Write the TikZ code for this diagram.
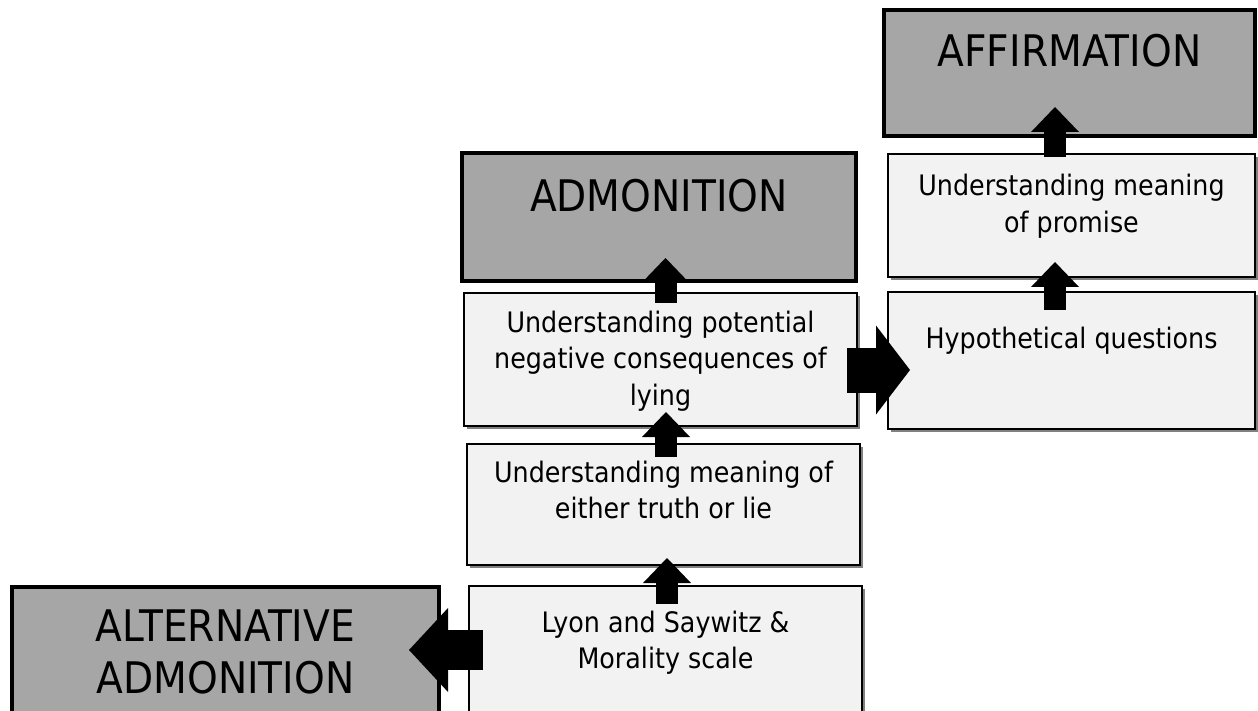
\documentclass[tikz,border=0pt]{standalone}
\usepackage{fontspec}
\setmainfont[FakeStretch=0.9]{DejaVu Sans}
\usetikzlibrary{calc,fit,shadows,arrows.meta}
\definecolor{boxgray}{HTML}{A6A6A6}
\definecolor{boxlight}{HTML}{F2F2F2}
\definecolor{shadowgray}{HTML}{808080}
\setlength\tabcolsep{0pt}
\tikzset{
  lightbox/.style={draw=black, line width=1.5pt, fill=boxlight, inner sep=0pt, outer sep=0pt,
    drop shadow={shadow xshift=3pt, shadow yshift=-3pt, fill=shadowgray, opacity=1}},
  graybox/.style={draw=black, line width=4.5pt, fill=boxgray, inner sep=0pt, outer sep=0pt},
  smalltext/.style={anchor=base, inner sep=0pt, font=\fontsize{28.2}{36.5}\selectfont},
  bigtext/.style={anchor=base, inner sep=0pt, font=\fontsize{43.5}{52}\selectfont},
  uparrow/.style={draw=black, line width=22pt, line cap=butt,
    -{Triangle[width=48pt,length=25pt,line width=0pt]}},
  sidearrowR/.style={draw=black, line width=45pt, line cap=butt,
    -{Triangle[width=89pt,length=34pt,line width=0pt]}},
  sidearrowL/.style={draw=black, line width=40pt, line cap=butt,
    -{Triangle[width=84pt,length=39pt,line width=0pt]}}
}
\begin{document}
\begin{tikzpicture}[x=1pt,y=-1pt]
\useasboundingbox (0,0) rectangle (1258,711);
\clip (0,0) rectangle (1258,711);
\fill[white] (0,0) rectangle (1258,711);

% boxes
\node[graybox, fit={(884,10)(1255,136)}] (affirm) {};
\node[lightbox, fit={(888,154)(1255,277)}] (promise) {};
\node[lightbox, fit={(888,292)(1255,429)}] (hypo) {};
\node[graybox, fit={(462,153)(856,281)}] (admon) {};
\node[lightbox, fit={(464,293)(857,426)}] (potential) {};
\node[lightbox, fit={(467,444)(860,565)}] (truth) {};
\node[lightbox, fit={(469,586)(862,730)}] (lyon) {};
\node[graybox, fit={(12,587)(439,730)}] (alt) {};

% texts
\node[bigtext] (taffirm) at ($(affirm.north)+(0,57)$) {AFFIRMATION};
\node[bigtext] (tadmon) at ($(admon.north)+(0,59)$) {ADMONITION};
\node[smalltext] (tpromise) at ($(promise.north)+(0,42)$) {\begin{tabular}[t]{c}Understanding meaning\\of promise\end{tabular}};
\node[smalltext] (thypo) at ($(hypo.north)+(0,56)$) {Hypothetical questions};
\node[smalltext] (tpotential) at ($(potential.north)+(0,39)$) {\begin{tabular}[t]{c}Understanding potential\\negative consequences of\\lying\end{tabular}};
\node[smalltext] (ttruth) at ($(truth.north)+(0,38)$) {\begin{tabular}[t]{c}Understanding meaning of\\either truth or lie\end{tabular}};
\node[smalltext] (tlyon) at ($(lyon.north)+(0,46)$) {\begin{tabular}[t]{c}Lyon and Saywitz \&\\Morality scale\end{tabular}};
\node[bigtext] (talt) at ($(alt.north)+(0,54)$) {\begin{tabular}[t]{c}ALTERNATIVE\\ADMONITION\end{tabular}};

% block arrows
\coordinate (s1) at ($(lyon.north)+(1.5,18)$);
\draw[uparrow] (s1) -- ($(s1 |- truth.south)+(0,-7)$);
\coordinate (s2) at ($(truth.north)+(2.5,13)$);
\draw[uparrow] (s2) -- ($(s2 |- potential.south)+(0,-14)$);
\coordinate (s3) at ($(potential.north)+(5,10)$);
\draw[uparrow] (s3) -- ($(s3 |- admon.south)+(0,-23)$);
\coordinate (s4) at ($(hypo.north)+(-16.5,18)$);
\draw[uparrow] (s4) -- ($(s4 |- promise.south)+(0,-15)$);
\coordinate (s5) at ($(promise.north)+(-16.5,3)$);
\draw[uparrow] (s5) -- ($(s5 |- affirm.south)+(0,-29)$);
\coordinate (s6) at ($(potential.east)+(-10,10.5)$);
\draw[sidearrowR] (s6) -- ($(s6 -| hypo.west)+(22,0)$);
\coordinate (s7) at ($(lyon.north west)+(14,64)$);
\draw[sidearrowL] (s7) -- ($(s7 -| alt.east)+(-30,0)$);
\end{tikzpicture}
\end{document}
